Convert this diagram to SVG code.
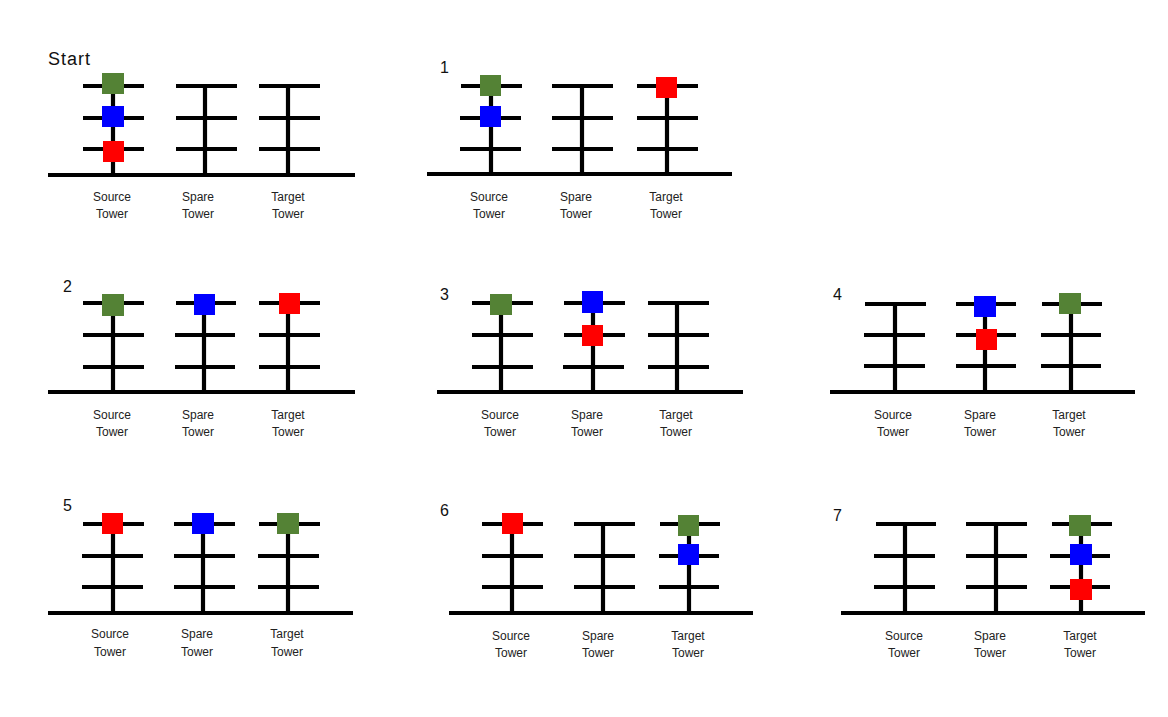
<svg xmlns="http://www.w3.org/2000/svg" width="1168" height="717" viewBox="0 0 1168 717">
<style>
.ln{stroke:#000;stroke-width:4.2;fill:none}
.g{fill:#548235}
.b{fill:#0000FF}
.r{fill:#FF0000}
.lbl{font-family:"Liberation Sans",Arial,sans-serif;font-size:12px;fill:#222;text-anchor:middle}
.num{font-family:"Liberation Sans",Arial,sans-serif;font-size:16px;fill:#111}
.start{font-family:"Liberation Sans",Arial,sans-serif;font-size:18px;fill:#111;letter-spacing:1px}
</style>
<rect width="1168" height="717" fill="#fff"/>

<!-- Start -->
<g id="panel-start">
<text class="start" x="48" y="65">Start</text>
<path class="ln" d="M48 175H355"/>
<g id="start-source"><path class="ln" d="M113 86V175M83 86H144M83 118H144M83 149H144"/>
<rect class="g" x="102" y="73" width="22" height="21"/><rect class="b" x="102" y="106" width="22" height="21"/><rect class="r" x="103" y="141" width="21" height="21"/>
<text class="lbl" x="112" y="201">Source</text><text class="lbl" x="112" y="218">Tower</text></g>
<g id="start-spare"><path class="ln" d="M205 86V175M176 86H237M176 118H237M176 149H237"/>
<text class="lbl" x="198" y="201">Spare</text><text class="lbl" x="198" y="218">Tower</text></g>
<g id="start-target"><path class="ln" d="M288 86V175M259 86H320M259 118H320M259 149H320"/>
<text class="lbl" x="288" y="201">Target</text><text class="lbl" x="288" y="218">Tower</text></g>
</g>

<!-- 1 -->
<g id="panel-1">
<text class="num" x="440" y="73">1</text>
<path class="ln" d="M427 174H732"/>
<g id="p1-source"><path class="ln" d="M491 86V174M461 86H522M460 118H521M460 149H521"/>
<rect class="g" x="480" y="75" width="21" height="21"/><rect class="b" x="480" y="106" width="21" height="21"/>
<text class="lbl" x="489" y="201">Source</text><text class="lbl" x="489" y="218">Tower</text></g>
<g id="p1-spare"><path class="ln" d="M582 86V174M552 86H613M552 118H613M552 149H613"/>
<text class="lbl" x="576" y="201">Spare</text><text class="lbl" x="576" y="218">Tower</text></g>
<g id="p1-target"><path class="ln" d="M667 86V174M637 86H698M637 118H698M637 149H698"/>
<rect class="r" x="656" y="77" width="21" height="21"/>
<text class="lbl" x="666" y="201">Target</text><text class="lbl" x="666" y="218">Tower</text></g>
</g>

<!-- 2 -->
<g id="panel-2">
<text class="num" x="63" y="292">2</text>
<path class="ln" d="M48 392H355"/>
<g id="p2-source"><path class="ln" d="M113 303V392M83 303H144M83 335H144M83 367H144"/>
<rect class="g" x="102" y="294" width="22" height="22"/>
<text class="lbl" x="112" y="419">Source</text><text class="lbl" x="112" y="436">Tower</text></g>
<g id="p2-spare"><path class="ln" d="M204 303V392M176 303H236M175 335H235M175 367H235"/>
<rect class="b" x="194" y="294" width="21" height="21"/>
<text class="lbl" x="198" y="419">Spare</text><text class="lbl" x="198" y="436">Tower</text></g>
<g id="p2-target"><path class="ln" d="M288 303V392M259 303H320M259 335H320M259 367H320"/>
<rect class="r" x="279" y="293" width="21" height="21"/>
<text class="lbl" x="288" y="419">Target</text><text class="lbl" x="288" y="436">Tower</text></g>
</g>

<!-- 3 -->
<g id="panel-3">
<text class="num" x="440" y="300">3</text>
<path class="ln" d="M437 392H743"/>
<g id="p3-source"><path class="ln" d="M501 303V392M472 303H533M472 335H533M472 367H533"/>
<rect class="g" x="490" y="294" width="22" height="21"/>
<text class="lbl" x="500" y="419">Source</text><text class="lbl" x="500" y="436">Tower</text></g>
<g id="p3-spare"><path class="ln" d="M593 303V392M564 303H625M564 335H625M563 367H624"/>
<rect class="b" x="582" y="291" width="21" height="22"/><rect class="r" x="582" y="325" width="21" height="21"/>
<text class="lbl" x="587" y="419">Spare</text><text class="lbl" x="587" y="436">Tower</text></g>
<g id="p3-target"><path class="ln" d="M677 303V392M648 303H709M648 335H709M648 367H709"/>
<text class="lbl" x="676" y="419">Target</text><text class="lbl" x="676" y="436">Tower</text></g>
</g>

<!-- 4 -->
<g id="panel-4">
<text class="num" x="833" y="300">4</text>
<path class="ln" d="M830 392H1135"/>
<g id="p4-source"><path class="ln" d="M895 304V392M865 304H926M864 335H925M864 366H925"/>
<text class="lbl" x="893" y="419">Source</text><text class="lbl" x="893" y="436">Tower</text></g>
<g id="p4-spare"><path class="ln" d="M985 304V392M956 304H1016M956 335H1016M956 366H1016"/>
<rect class="b" x="974" y="296" width="22" height="21"/><rect class="r" x="976" y="329" width="21" height="21"/>
<text class="lbl" x="980" y="419">Spare</text><text class="lbl" x="980" y="436">Tower</text></g>
<g id="p4-target"><path class="ln" d="M1071 304V392M1042 304H1102M1041 335H1101M1041 366H1101"/>
<rect class="g" x="1059" y="293" width="22" height="21"/>
<text class="lbl" x="1069" y="419">Target</text><text class="lbl" x="1069" y="436">Tower</text></g>
</g>

<!-- 5 -->
<g id="panel-5">
<text class="num" x="63" y="511">5</text>
<path class="ln" d="M48 613H353"/>
<g id="p5-source"><path class="ln" d="M113 524V613M83 524H144M82 556H143M82 587H143"/>
<rect class="r" x="102" y="513" width="21" height="21"/>
<text class="lbl" x="110" y="638">Source</text><text class="lbl" x="110" y="656">Tower</text></g>
<g id="p5-spare"><path class="ln" d="M203 524V613M174 524H235M174 556H235M174 587H235"/>
<rect class="b" x="192" y="513" width="22" height="21"/>
<text class="lbl" x="197" y="638">Spare</text><text class="lbl" x="197" y="656">Tower</text></g>
<g id="p5-target"><path class="ln" d="M288 524V613M259 524H320M258 556H319M258 587H319"/>
<rect class="g" x="277" y="513" width="22" height="21"/>
<text class="lbl" x="287" y="638">Target</text><text class="lbl" x="287" y="656">Tower</text></g>
</g>

<!-- 6 -->
<g id="panel-6">
<text class="num" x="440" y="516">6</text>
<path class="ln" d="M449 613H753"/>
<g id="p6-source"><path class="ln" d="M512 524V613M482 524H543M482 556H543M482 587H543"/>
<rect class="r" x="502" y="513" width="21" height="21"/>
<text class="lbl" x="511" y="640">Source</text><text class="lbl" x="511" y="657">Tower</text></g>
<g id="p6-spare"><path class="ln" d="M603 524V613M574 524H635M574 556H635M574 587H635"/>
<text class="lbl" x="598" y="640">Spare</text><text class="lbl" x="598" y="657">Tower</text></g>
<g id="p6-target"><path class="ln" d="M689 524V613M660 524H720M659 556H719M659 587H719"/>
<rect class="g" x="678" y="515" width="21" height="21"/><rect class="b" x="678" y="544" width="21" height="21"/>
<text class="lbl" x="688" y="640">Target</text><text class="lbl" x="688" y="657">Tower</text></g>
</g>

<!-- 7 -->
<g id="panel-7">
<text class="num" x="833" y="521">7</text>
<path class="ln" d="M841 613H1145"/>
<g id="p7-source"><path class="ln" d="M905 524V613M876 524H936M874 556H935M874 587H935"/>
<text class="lbl" x="904" y="640">Source</text><text class="lbl" x="904" y="657">Tower</text></g>
<g id="p7-spare"><path class="ln" d="M996 524V613M966 524H1027M966 556H1027M966 587H1027"/>
<text class="lbl" x="990" y="640">Spare</text><text class="lbl" x="990" y="657">Tower</text></g>
<g id="p7-target"><path class="ln" d="M1081 524V613M1052 524H1112M1050 556H1110M1050 587H1110"/>
<rect class="g" x="1069" y="515" width="22" height="21"/><rect class="b" x="1070" y="544" width="22" height="21"/><rect class="r" x="1070" y="579" width="22" height="21"/>
<text class="lbl" x="1080" y="640">Target</text><text class="lbl" x="1080" y="657">Tower</text></g>
</g>
</svg>
